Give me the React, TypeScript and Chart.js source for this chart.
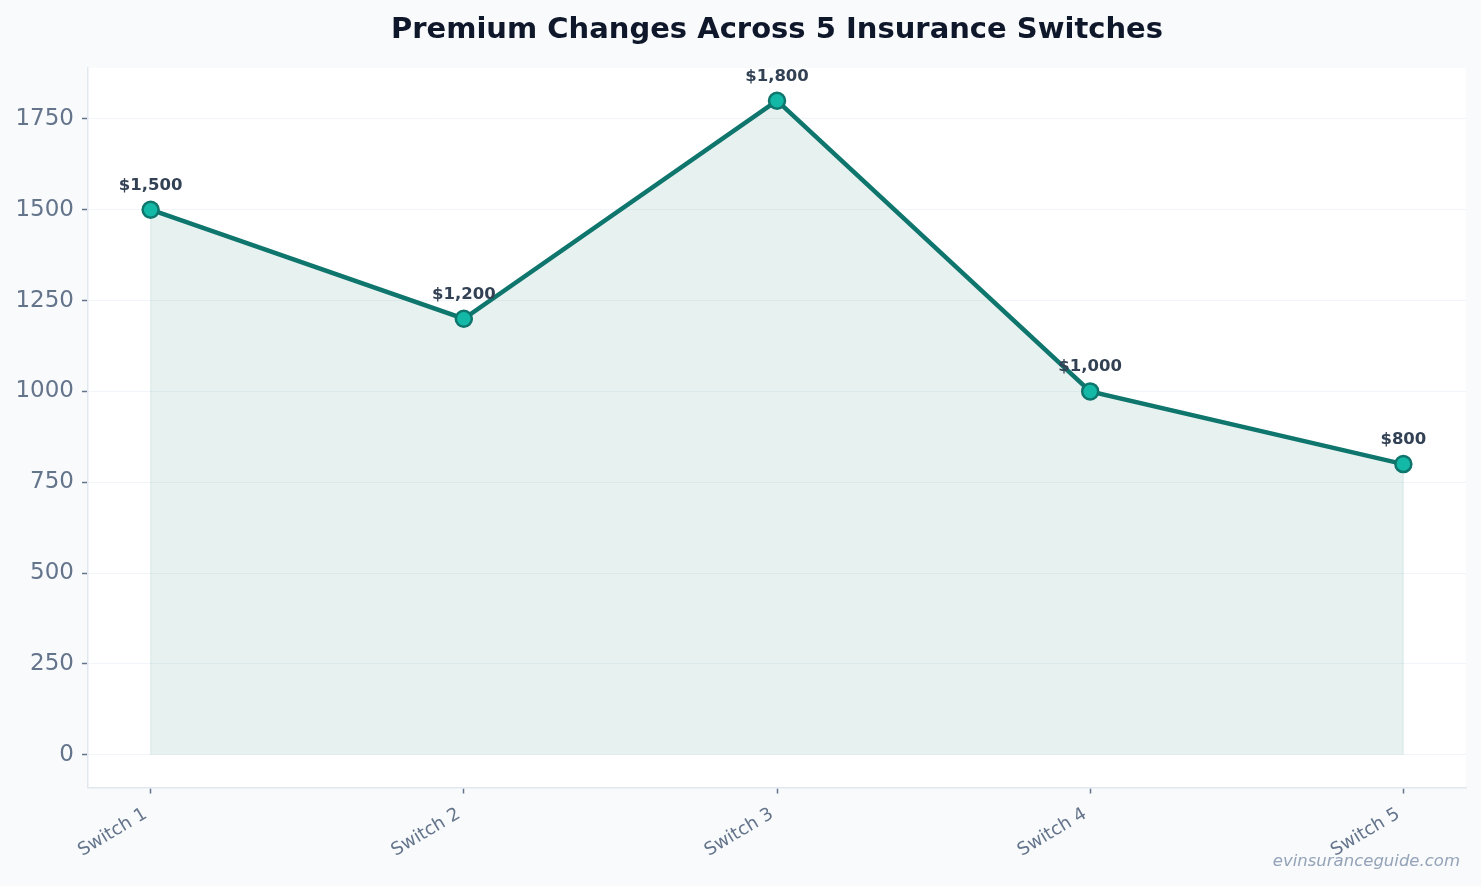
import React, { useEffect, useRef } from "react";
import { Chart, registerables } from "chart.js";

Chart.register(...registerables);

const categories = ["Switch 1", "Switch 2", "Switch 3", "Switch 4", "Switch 5"];
const premiums = [1500, 1200, 1800, 1000, 800];
const premiumLabels = ["$1,500", "$1,200", "$1,800", "$1,000", "$800"];
const yTicks = [0, 250, 500, 750, 1000, 1250, 1500, 1750];
const titleText = "Premium Changes Across 5 Insurance Switches";
const watermarkText = "evinsuranceguide.com";

const FONT = "'DejaVu Sans', 'Noto Sans', sans-serif";

const decorPlugin = {
  id: "decor",
  beforeDraw(chart: any) {
    const { ctx, chartArea, width, height } = chart;
    ctx.save();
    ctx.fillStyle = "#f8fafc";
    ctx.fillRect(0, 0, width, height);
    ctx.fillStyle = "#ffffff";
    ctx.fillRect(chartArea.left, chartArea.top, chartArea.right - chartArea.left, chartArea.bottom - chartArea.top);
    ctx.restore();
  },
  afterDraw(chart: any) {
    const { ctx, chartArea } = chart;
    ctx.save();
    // title
    ctx.fillStyle = "#0f172a";
    ctx.font = `bold 29px ${FONT}`;
    ctx.textAlign = "center";
    ctx.textBaseline = "alphabetic";
    ctx.fillText(titleText, (chartArea.left + chartArea.right) / 2, 37.5);
    // data labels
    const meta = chart.getDatasetMeta(0);
    ctx.fillStyle = "#334155";
    ctx.font = `bold 16.5px ${FONT}`;
    meta.data.forEach((pt: any, i: number) => {
      ctx.fillText(premiumLabels[i], pt.x, pt.y - 20);
    });
    // watermark
    ctx.fillStyle = "#94a3b8";
    ctx.font = `italic 16.5px ${FONT}`;
    ctx.textAlign = "right";
    ctx.fillText(watermarkText, 1460, 866);
    ctx.restore();
  },
};

export default function App() {
  const ref = useRef<HTMLCanvasElement | null>(null);
  useEffect(() => {
    if (!ref.current) return;
    const points = categories.map((_, i) => ({ x: i, y: premiums[i] }));
    const outline = [{ x: 0, y: 0 }, ...points, { x: categories.length - 1, y: 0 }];
    const chart = new Chart(ref.current, {
      type: "line",
      data: {
        datasets: [
          {
            data: points,
            borderColor: "#0f766e",
            borderWidth: 4.5,
            backgroundColor: "rgba(15,118,110,0.1)",
            fill: { value: 0 },
            tension: 0,
            pointRadius: 8,
            pointHoverRadius: 8,
            pointBackgroundColor: "#14b8a6",
            pointBorderColor: "#0f766e",
            pointBorderWidth: 2.5,
          },
          {
            data: outline,
            borderColor: "rgba(15,118,110,0.1)",
            borderWidth: 1.2,
            fill: false,
            pointRadius: 0,
            tension: 0,
          },
        ],
      },
      options: {
        animation: false,
        responsive: false,
        layout: { padding: { left: 0, right: 15, top: 68, bottom: 0 } },
        plugins: {
          legend: { display: false },
          tooltip: { enabled: false },
          title: { display: false },
        },
        scales: {
          x: {
            type: "linear",
            min: -0.2,
            max: 4.2,
            afterBuildTicks: (scale: any) => {
              scale.ticks = categories.map((_, i) => ({ value: i }));
            },
            afterFit: (scale: any) => {
              scale.height = 98.5;
            },
            grid: {
              drawOnChartArea: false,
              drawTicks: true,
              tickLength: 6,
              tickColor: "#64748b",
              tickWidth: 1.5,
            },
            border: { color: "#e2e8f0", width: 1.5 },
            ticks: {
              autoSkip: false,
              minRotation: 31,
              maxRotation: 31,
              padding: 10,
              labelOffset: -5,
              color: "#64748b",
              font: { family: FONT, size: 18 },
              callback: (v: any) => categories[v as number] ?? "",
            },
          },
          y: {
            type: "linear",
            min: -90,
            max: 1890,
            afterBuildTicks: (scale: any) => {
              scale.ticks = yTicks.map((v) => ({ value: v }));
            },
            afterFit: (scale: any) => {
              scale.width = 88;
            },
            grid: {
              color: "#f1f5f9",
              lineWidth: 1,
              drawTicks: true,
              tickLength: 6,
              tickColor: "#64748b",
              tickWidth: 1.5,
            },
            border: { color: "#e2e8f0", width: 1.5 },
            ticks: {
              padding: 8,
              color: "#64748b",
              font: { family: FONT, size: 23 },
              callback: (v: any) => String(v),
            },
          },
        },
      },
      plugins: [decorPlugin],
    });
    return () => chart.destroy();
  }, []);
  return (
    <div style={{ position: "fixed", left: 0, top: 0, width: 1481, height: 886 }}>
      <canvas ref={ref} width={1481} height={886} style={{ display: "block" }} />
    </div>
  );
}
